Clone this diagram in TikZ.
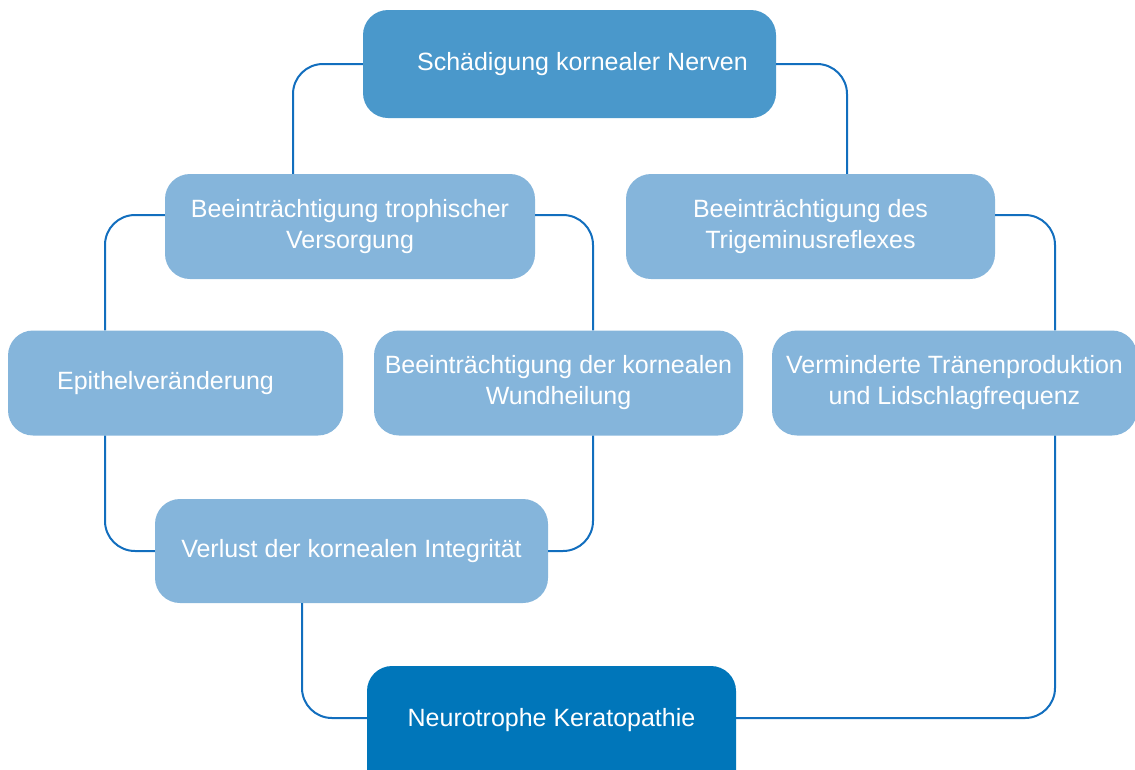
\documentclass[tikz,border=0pt]{standalone}
\usepackage{fontspec}
\setmainfont{Liberation Sans}
\definecolor{topblue}{RGB}{74,152,203}
\definecolor{boxblue}{RGB}{133,181,219}
\definecolor{endblue}{RGB}{0,118,186}
\definecolor{lineblue}{RGB}{18,110,190}
\tikzset{box/.style={rounded corners=25pt,fill=boxblue,text=white,align=center,inner sep=0pt,minimum width=369pt,minimum height=105pt,font=\fontsize{25}{31}\selectfont},link/.style={draw=lineblue,line width=2pt,rounded corners=30pt}}

\begin{document}
\begin{tikzpicture}[x=1pt,y=-1pt]
\useasboundingbox (0,0) rectangle (1135,769);
\node[box,fill=topblue,minimum width=413pt,minimum height=108pt] (schaedigung) at (569.5,64) {\hspace*{26pt}Schädigung kornealer Nerven};
\node[box,minimum width=370pt] (trophik) at (350,226.5) {Beeinträchtigung trophischer\\Versorgung};
\node[box] (trigeminus) at (810.5,226.5) {Beeinträchtigung des\\Trigeminusreflexes};
\node[box,minimum width=335pt] (epithel) at (175.5,383) {Epithelveränderung\hspace*{20pt}};
\node[box] (wundheilung) at (558.5,383) {Beeinträchtigung der kornealen\\Wundheilung};
\node[box,minimum width=365pt] (traenen) at (954.5,383) {Verminderte Tränenproduktion\\und Lidschlagfrequenz};
\node[box,minimum width=393pt,minimum height=104pt] (integritaet) at (351.5,551) {Verlust der kornealen Integrität};
\node[box,fill=endblue,minimum height=130pt,text depth=28pt] (keratopathie) at (551.5,731) {Neurotrophe Keratopathie};
% Verbindungen
\draw[link] (schaedigung.west) -| ([xshift=-57pt]trophik.north);
\draw[link] (schaedigung.east) -| ([xshift=36.5pt]trigeminus.north);
\draw[link] ([yshift=11.5pt]trophik.west) -| ([xshift=-70.5pt]epithel.north);
\draw[link] ([yshift=11.5pt]trophik.east) -| ([xshift=34.5pt]wundheilung.north);
\draw[link] ([yshift=11.5pt]trigeminus.east) -| ([xshift=100.5pt]traenen.north);
\draw[link] ([xshift=-70.5pt]epithel.south) |- (integritaet.west);
\draw[link] ([xshift=34.5pt]wundheilung.south) |- (integritaet.east);
\draw[link] ([xshift=-49.5pt]integritaet.south) |- ([yshift=13pt]keratopathie.west);
\draw[link] ([xshift=100.5pt]traenen.south) |- ([yshift=13pt]keratopathie.east);
\end{tikzpicture}
\end{document}
